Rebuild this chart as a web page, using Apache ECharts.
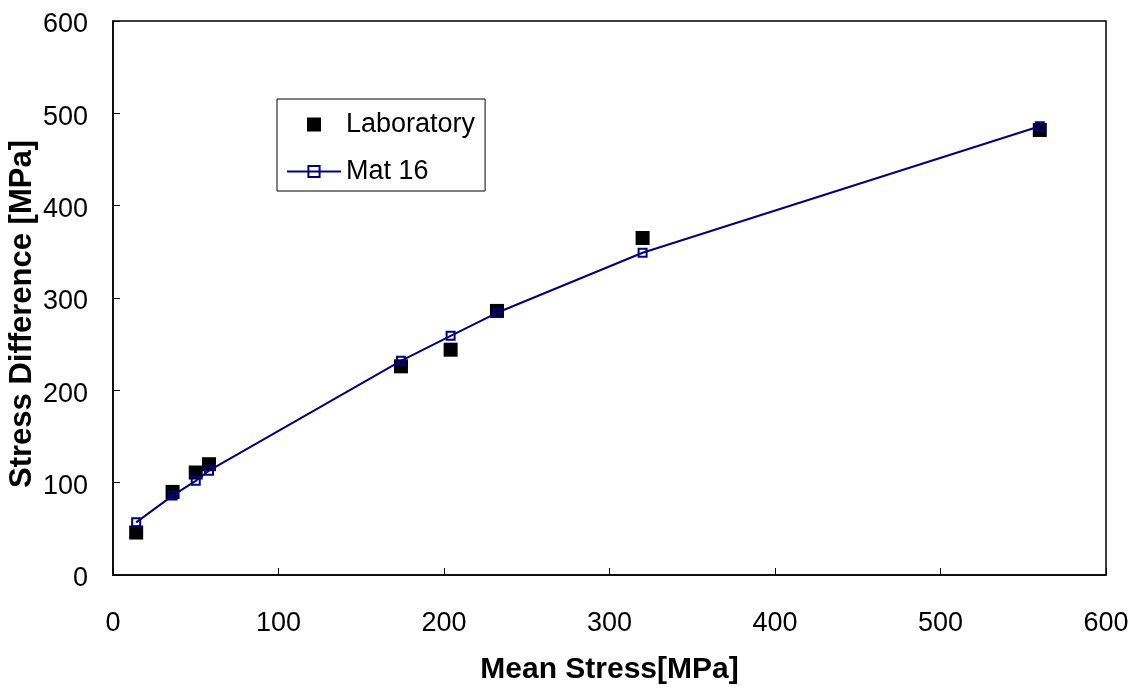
<!DOCTYPE html>
<html>
<head>
<meta charset="utf-8">
<title>Stress Difference vs Mean Stress</title>
<script src="https://cdn.jsdelivr.net/npm/echarts@6/dist/echarts.min.js"></script>
<style>
  html, body { margin: 0; padding: 0; background: #fff; }
  #chart { width: 1133px; height: 689px; }
</style>
</head>
<body>
<div id="chart"></div>
<script>
// Mean stress of each test [MPa]
const meanStress = [14, 36, 50, 58, 174, 204, 232, 320, 560];
// Measured stress difference [MPa]
const labDiff = [46, 90, 111, 120, 226, 244, 286, 365, 482];
// Material model 16 prediction [MPa]
const matDiff = [57, 86, 102, 113, 232, 259, 284, 349, 486];

const FONT = '"Liberation Sans", Arial, sans-serif';
const NAVY = '#000080';

const labData = meanStress.map((x, i) => [x, labDiff[i]]);
const matData = meanStress.map((x, i) => [x, matDiff[i]]);

const axisCommon = {
  min: 0,
  max: 600,
  interval: 100,
  splitLine: { show: false },
  axisLine: { show: true, onZero: false, lineStyle: { color: '#000', width: 1.5 } },
  axisTick: { show: true, inside: true, length: 7, lineStyle: { color: '#000', width: 1 } },
  axisLabel: { color: '#000', fontSize: 27, fontFamily: FONT }
};

const chart = echarts.init(document.getElementById('chart'), null, { renderer: 'canvas' });
chart.setOption({
  animation: false,
  backgroundColor: '#fff',
  grid: {
    left: 113, right: 27, top: 21, bottom: 114,
    containLabel: false,
    outerBoundsMode: 'none',
    show: true, borderColor: '#000', borderWidth: 1.5, backgroundColor: 'transparent'
  },
  xAxis: Object.assign({}, axisCommon, {
    type: 'value',
    name: 'Mean Stress[MPa]',
    nameLocation: 'middle',
    nameGap: 80,
    nameTextStyle: { color: '#000', fontSize: 30, fontWeight: 'bold', fontFamily: FONT },
    axisLabel: Object.assign({}, axisCommon.axisLabel, { margin: 35 })
  }),
  yAxis: Object.assign({}, axisCommon, {
    type: 'value',
    axisLabel: Object.assign({}, axisCommon.axisLabel, {
      margin: 25, verticalAlign: 'top', lineHeight: 8
    })
  }),
  graphic: [{
    type: 'text',
    x: 22,
    y: 314,
    rotation: Math.PI / 2,
    style: {
      text: 'Stress Difference [MPa]',
      fill: '#000',
      font: 'bold 31px ' + FONT,
      align: 'center',
      verticalAlign: 'middle'
    }
  }],
  legend: {
    orient: 'vertical',
    left: 277,
    top: 99,
    padding: [12, 10, 6, 9],
    itemWidth: 54,
    itemHeight: 14,
    itemGap: 20,
    backgroundColor: '#fff',
    borderColor: '#000',
    borderWidth: 1,
    borderRadius: 0,
    symbolKeepAspect: true,
    textStyle: { color: '#000', fontSize: 27, fontFamily: FONT },
    data: [
      { name: 'Laboratory', icon: 'path://M0,0h10v10h-10z' },
      { name: 'Mat 16' }
    ]
  },
  series: [
    {
      name: 'Laboratory',
      type: 'scatter',
      data: labData,
      symbol: 'rect',
      symbolSize: 14,
      itemStyle: { color: '#000', opacity: 1 }
    },
    {
      name: 'Mat 16',
      type: 'line',
      data: matData,
      symbol: 'rect',
      symbolSize: 8,
      showSymbol: true,
      lineStyle: { color: NAVY, width: 2 },
      itemStyle: { color: 'rgba(0,0,0,0)', borderColor: NAVY, borderWidth: 2 }
    }
  ]
});
</script>
</body>
</html>
